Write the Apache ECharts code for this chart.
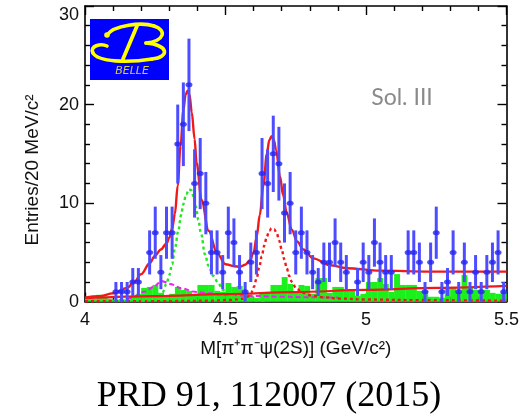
<!DOCTYPE html>
<html>
<head>
<meta charset="utf-8">
<script src="https://cdn.jsdelivr.net/npm/echarts@6/dist/echarts.min.js"></script>
<style>
html,body{margin:0;padding:0;background:#fff}
#chart{width:530px;height:416px}
</style>
</head>
<body>
<div id="chart"></div>
<script>
// Histogram binning: 20 MeV bins from 4.0 to 5.5 GeV
const binStart = 4.0;
const binWidth = 0.02;

// Signal-region entries per bin
const counts = [
  0, 0, 0, 0, 0, 1, 1, 1, 2, 2,
  0, 5, 7, 3, 7, 7, 16, 18, 22, 12,
  13, 10, 5, 5, 3, 7, 6, 3, 1, 4,
  5, 13, 12, 15, 14, 9, 10, 5, 7, 5,
  3, 2, 4, 4, 6, 4, 3, 0, 2, 4,
  3, 6, 4, 3, 3, 0, 0, 5, 5, 4,
  1, 4, 7, 1, 2, 5, 1, 4, 1, 3,
  1, 3, 4, 5, 1
];

// Scaled psi(2S) sideband entries per bin
const sideband = [
  0.3, 0.3, 0.7, 0.5, 0.3, 0.2, 0.3, 0.2, 0.5, 0.8,
  1.4, 1.5, 1.7, 0.9, 0.5, 0.8, 1.5, 1.2, 1.1, 0.6,
  1.7, 1.7, 1.7, 1.1, 1.0, 1.9, 1.5, 1.6, 0.9, 0.6,
  0.4, 0.8, 1.0, 1.7, 1.7, 2.5, 1.8, 1.0, 1.7, 1.6,
  0.8, 2.4, 2.4, 0.9, 1.5, 1.5, 1.2, 1.1, 0.6, 0.8,
  2.0, 2.0, 2.4, 1.8, 1.0, 2.8, 1.7, 1.7, 1.7, 1.1,
  1.1, 0.5, 0.5, 0.4, 1.5, 1.5, 1.0, 2.7, 1.5, 1.2,
  1.2, 1.2, 0.9, 0.8, 1.0
];

// Total fit [mass, entries]
const totalFit = [
  [4.00, 0.4], [4.05, 0.55], [4.10, 0.85], [4.15, 1.4], [4.175, 2.0],
  [4.20, 2.8], [4.23, 3.9], [4.25, 4.7], [4.27, 5.3], [4.29, 5.9],
  [4.30, 6.5], [4.31, 7.4], [4.32, 8.9], [4.33, 11.8], [4.34, 15.8],
  [4.35, 19.4], [4.358, 21.0], [4.365, 21.4], [4.372, 21.0], [4.38, 19.2],
  [4.39, 16.5], [4.397, 14.1], [4.415, 10.3], [4.44, 7.2], [4.47, 4.9],
  [4.50, 3.8], [4.53, 3.6], [4.552, 3.55], [4.57, 3.75], [4.587, 4.2],
  [4.60, 5.0], [4.611, 6.6], [4.622, 8.8], [4.635, 11.8], [4.647, 15.0],
  [4.656, 16.4], [4.664, 16.8], [4.672, 16.4], [4.68, 15.4], [4.694, 12.7],
  [4.705, 10.8], [4.718, 9.0], [4.736, 7.3], [4.755, 6.1], [4.777, 5.3],
  [4.812, 4.4], [4.872, 3.7], [4.931, 3.4], [5.05, 3.15], [5.228, 3.05],
  [5.50, 3.05]
];

// Non-resonant background (lower solid curve)
const bkgCurve = [
  [4.00, 0.35], [4.25, 0.56], [4.50, 0.77], [4.75, 0.98],
  [5.00, 1.19], [5.25, 1.40], [5.50, 1.60]
];

// Y(4360) component (green dotted)
const y4360Curve = [
  [4.20, 0.08], [4.22, 0.15], [4.24, 0.3], [4.261, 0.5], [4.275, 0.9],
  [4.29, 1.8], [4.30, 2.7], [4.31, 3.8], [4.32, 5.4], [4.332, 7.2],
  [4.342, 8.8], [4.35, 9.9], [4.36, 10.9], [4.37, 11.4], [4.378, 11.3],
  [4.386, 10.7], [4.395, 9.6], [4.403, 8.3], [4.413, 6.9], [4.427, 4.8],
  [4.44, 3.6], [4.457, 2.6], [4.474, 1.9], [4.49, 1.2], [4.52, 0.6],
  [4.56, 0.3], [4.60, 0.15], [4.65, 0.08]
];

// Y(4660) component (red dotted)
const y4660Curve = [
  [4.00, 0.05], [4.30, 0.06], [4.45, 0.1], [4.52, 0.18], [4.56, 0.3],
  [4.578, 0.5], [4.591, 0.85], [4.601, 1.5], [4.611, 2.4], [4.62, 3.5],
  [4.629, 4.6], [4.638, 5.7], [4.647, 6.6], [4.656, 7.2], [4.664, 7.45],
  [4.673, 7.35], [4.682, 7.0], [4.691, 6.2], [4.70, 5.3], [4.709, 4.3],
  [4.718, 3.4], [4.727, 2.6], [4.736, 2.0], [4.753, 1.3], [4.775, 0.9],
  [4.80, 0.65], [4.85, 0.45], [4.90, 0.32], [5.00, 0.22], [5.20, 0.15],
  [5.50, 0.1]
];

// Broad low-mass component (magenta dashed)
const broadCurve = [
  [4.15, 0.2], [4.174, 0.5], [4.21, 1.0], [4.246, 1.5], [4.263, 1.9],
  [4.273, 2.1], [4.285, 2.0], [4.302, 1.8], [4.344, 1.35], [4.391, 1.0],
  [4.439, 0.85], [4.498, 0.7], [4.60, 0.58], [4.70, 0.5], [4.80, 0.45],
  [4.90, 0.42]
];

const xTicks = { min: 4, max: 5.5, step: 0.5 };
const yTicks = { min: 0, max: 30, step: 10 };

const LABEL_FONT = 'Liberation Sans, Arial, sans-serif';
const BLUE_BAR = '#4d4dff';
const BLUE_DOT = '#2626f0';
const RED = '#f01818';
const GREEN_FILL = '#1cf01c';
const GREEN_LINE = '#22e622';
const MAGENTA = '#f020f0';
const LOGO_YELLOW = '#ffff00';

const binCenter = i => +(binStart + binWidth * (i + 0.5)).toFixed(4);

const pointData = [];
counts.forEach((n, i) => {
  if (n > 0) pointData.push([binCenter(i), n, Math.sqrt(n)]);
});
const sidebandData = sideband.map((v, i) => [binCenter(i), v]);

const chart = echarts.init(document.getElementById('chart'), null, { renderer: 'canvas' });

const tickStyle = { color: '#000', width: 1.4 };

function xAxisDef(pos, showLabel) {
  return {
    type: 'value', position: pos,
    min: xTicks.min, max: xTicks.max, interval: xTicks.step,
    axisLine: { show: true, onZero: false, lineStyle: { color: '#000', width: 1.6 } },
    axisTick: { show: true, inside: true, length: 9, lineStyle: tickStyle },
    minorTick: { show: true, splitNumber: 5, length: 5, lineStyle: tickStyle },
    splitLine: { show: false },
    axisLabel: {
      show: showLabel, fontSize: 18, color: '#111', fontFamily: LABEL_FONT, margin: 9
    },
    name: showLabel ? 'M[π⁺π⁻ψ(2S)] (GeV/c²)' : '',
    nameLocation: 'middle', nameGap: 38,
    nameTextStyle: { fontSize: 19, color: '#111', fontFamily: LABEL_FONT }
  };
}
function yAxisDef(pos, showLabel) {
  return {
    type: 'value', position: pos,
    min: yTicks.min, max: yTicks.max, interval: yTicks.step,
    axisLine: { show: true, onZero: false, lineStyle: { color: '#000', width: 1.6 } },
    axisTick: { show: true, inside: true, length: 9, lineStyle: tickStyle },
    minorTick: { show: true, splitNumber: 5, length: 5, lineStyle: tickStyle },
    splitLine: { show: false },
    axisLabel: {
      show: showLabel, fontSize: 18, color: '#111', fontFamily: LABEL_FONT, margin: 6,
      verticalAlignMaxLabel: 'top'
    }
  };
}

function curveSeries(data, color, type, width) {
  return {
    type: 'line', data: data, xAxisIndex: 0, yAxisIndex: 0,
    smooth: 0.35, smoothMonotone: 'x', symbol: 'none', silent: true,
    lineStyle: { color: color, width: width, type: type },
    z: 3
  };
}

// Stroke pieces of the stylised "B" in the Belle logo
function logoStroke(x1, y1, cpx1, cpy1, cpx2, cpy2, x2, y2) {
  return {
    type: 'bezierCurve',
    shape: { x1: x1, y1: y1, cpx1: cpx1, cpy1: cpy1, cpx2: cpx2, cpy2: cpy2, x2: x2, y2: y2 },
    style: { fill: 'none', stroke: LOGO_YELLOW, lineWidth: 3.6, lineCap: 'round' }
  };
}

const option = {
  backgroundColor: '#fff',
  animation: false,
  grid: { left: 85, top: 6, width: 421.5, height: 295.7, outerBoundsMode: 'none', containLabel: false },
  xAxis: [xAxisDef('bottom', true), xAxisDef('top', false)],
  yAxis: [yAxisDef('left', true), yAxisDef('right', false)],
  series: [
    {
      // sideband histogram
      type: 'custom', xAxisIndex: 0, yAxisIndex: 0, silent: true, z: 2,
      data: sidebandData,
      renderItem: function (params, api) {
        const x = api.value(0), v = api.value(1);
        const p0 = api.coord([x - binWidth / 2, v]);
        const p1 = api.coord([x + binWidth / 2, 0]);
        return {
          type: 'rect',
          shape: { x: p0[0], y: p0[1], width: p1[0] - p0[0] + 0.3, height: p1[1] - p0[1] },
          style: { fill: GREEN_FILL }
        };
      }
    },
    curveSeries(broadCurve, MAGENTA, [5, 3], 2),
    curveSeries(y4660Curve, RED, [3, 3], 2.4),
    curveSeries(y4360Curve, GREEN_LINE, [3, 3], 2.4),
    curveSeries(bkgCurve, RED, 'solid', 2.2),
    curveSeries(totalFit, RED, 'solid', 2.4),
    {
      // statistical error bars
      type: 'custom', xAxisIndex: 0, yAxisIndex: 0, silent: true, z: 5,
      data: pointData,
      renderItem: function (params, api) {
        const x = api.value(0), y = api.value(1), e = api.value(2);
        const lo = api.coord([x, Math.max(0, y - e)]);
        const hi = api.coord([x, y + e]);
        return {
          type: 'line',
          shape: { x1: lo[0], y1: lo[1], x2: hi[0], y2: hi[1] },
          style: { stroke: BLUE_BAR, lineWidth: 3 }
        };
      }
    },
    {
      type: 'scatter', xAxisIndex: 0, yAxisIndex: 0, silent: true, z: 6,
      data: pointData.map(d => [d[0], d[1]]),
      symbol: 'circle', symbolSize: [7, 5],
      itemStyle: { color: BLUE_DOT }
    }
  ],
  graphic: [
    {
      type: 'text', x: 33, y: 170, rotation: Math.PI / 2,
      style: {
        text: 'Entries/20 MeV/c²', fontSize: 19, fontFamily: LABEL_FONT, fill: '#111',
        textAlign: 'center', textVerticalAlign: 'middle'
      }
    },
    {
      type: 'text', x: 402, y: 98,
      style: {
        text: 'Sol. III', fontSize: 23, fontFamily: 'Lato, Open Sans, sans-serif', fill: '#8a8a8a',
        textAlign: 'center', textVerticalAlign: 'middle'
      }
    },
    {
      type: 'text', x: 269, y: 397,
      style: {
        text: 'PRD 91, 112007 (2015)', fontSize: 36, fontFamily: 'Liberation Serif, Times New Roman, serif',
        fill: '#000', textAlign: 'center', textVerticalAlign: 'middle'
      }
    },
    {
      // Belle logo
      type: 'group', x: 0, y: 0, z: 10,
      children: [
        { type: 'rect', shape: { x: 90, y: 19, width: 79, height: 61 }, style: { fill: '#0000ff' } },
        logoStroke(107, 35, 114, 25, 142, 22, 154, 26),
        logoStroke(154, 26, 167, 30, 165, 41, 146, 43),
        logoStroke(146, 43, 169, 45, 170, 57, 152, 59),
        logoStroke(152, 59, 128, 63, 98, 62, 93, 53),
        logoStroke(93, 53, 89, 46, 101, 43, 107, 46),
        {
          type: 'line', shape: { x1: 137, y1: 26, x2: 123, y2: 59 },
          style: { stroke: LOGO_YELLOW, lineWidth: 3.8, lineCap: 'round' }
        },
        { type: 'circle', shape: { cx: 107, cy: 35, r: 2.8 }, style: { fill: LOGO_YELLOW } },
        {
          type: 'text', x: 132, y: 71,
          style: {
            text: 'BELLE', fontSize: 11, fontStyle: 'italic', fontFamily: 'DejaVu Sans, sans-serif',
            fill: '#d2d050', textAlign: 'center', textVerticalAlign: 'middle'
          }
        }
      ]
    }
  ]
};

chart.setOption(option);
</script>
</body>
</html>
